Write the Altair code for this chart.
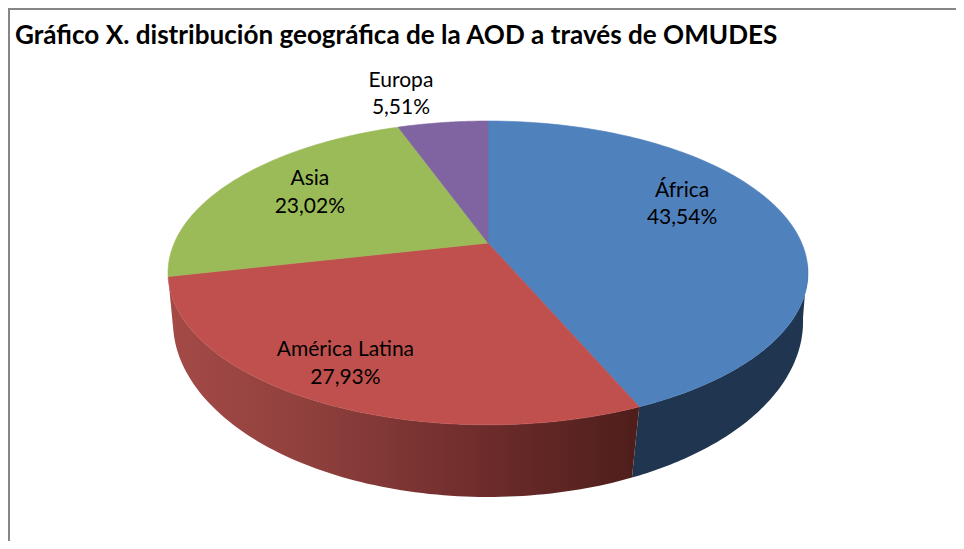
import math
import altair as alt
import pandas as pd

TITLE = "Gráfico X. distribución geográfica de la AOD a través de OMUDES"
regions = ["África", "América Latina", "Asia", "Europa"]
shares = [43.54, 27.93, 23.02, 5.51]
pct_labels = ["43,54%", "27,93%", "23,02%", "5,51%"]
colors = ["#4F81BD", "#C0504D", "#9BBB59", "#8064A2"]

W, H = 948, 533
ORIGIN = 8  # page margin


def top(theta, r=1.0):
    u, v = r * math.sin(theta), r * math.cos(theta)
    d = 1 + 0.197 * v
    return 488 + 313.7 * u / d, 243 - 146 * v / d


def bottom(theta):
    u, v = math.sin(theta), math.cos(theta)
    d = 1 + 0.16 * v
    return 488 + 311 * u / d, 293.4 - 171 * v / d


def arc(a0, a1, fn, n=90):
    return [fn(a0 + (a1 - a0) * i / n) for i in range(n + 1)]


xs = alt.Scale(domain=[ORIGIN, ORIGIN + W], range=[0, W], nice=False, zero=False)
ys = alt.Scale(domain=[ORIGIN, ORIGIN + H], range=[0, H], nice=False, zero=False)


def polygon(pts, fill, stroke=None):
    pts = pts + [pts[0]]
    df = pd.DataFrame({"x": [p[0] for p in pts], "y": [p[1] for p in pts], "i": range(len(pts))})
    return alt.Chart(df).mark_line(
        fill=fill, stroke=stroke or "transparent", strokeWidth=0.6 if stroke else 0, interpolate="linear"
    ).encode(
        x=alt.X("x:Q", scale=xs, axis=None),
        y=alt.Y("y:Q", scale=ys, axis=None),
        order="i:Q",
    )


# slice boundaries, clockwise from twelve o'clock
bounds = [0.0]
for s in shares:
    bounds.append(bounds[-1] + s / 100 * 2 * math.pi)

layers = []

# side walls
blue_start = math.radians(98)
side_blue = arc(blue_start, bounds[1], top) + arc(bounds[1], blue_start, bottom)
layers.append(polygon(side_blue, "#1F3550"))

red_grad = alt.LinearGradient(
    gradient="linear", x1=0, x2=1, y1=0, y2=0,
    stops=[
        alt.GradientStop(color="#A44A47", offset=0),
        alt.GradientStop(color="#8F403D", offset=0.3),
        alt.GradientStop(color="#6F2D2C", offset=0.65),
        alt.GradientStop(color="#4E1E1B", offset=1),
    ],
)
side_red = arc(bounds[1], bounds[2], top) + arc(bounds[2], bounds[1], bottom)
layers.append(polygon(side_red, red_grad))

# top surface
for i, c in enumerate(colors):
    pts = [top(0, 0)] + arc(bounds[i], bounds[i + 1], top)
    layers.append(polygon(pts, c, c))

# labels: mid-slice anchor plus a hand offset
label_offsets = [(14, -35), (-47, 20), (-22, -24), (-58, -85)]
rows = []
for i, name in enumerate(regions):
    ax, ay = top((bounds[i] + bounds[i + 1]) / 2, 0.6)
    dx, dy = label_offsets[i]
    rows.append({"x": ax + dx, "y": ay + dy, "t": f"{name}\n{pct_labels[i]}"})
layers.append(
    alt.Chart(pd.DataFrame(rows)).mark_text(
        font="Lato", fontSize=21, lineBreak="\n", lineHeight=27.5, align="center", baseline="middle", color="#000000"
    ).encode(
        x=alt.X("x:Q", scale=xs, axis=None),
        y=alt.Y("y:Q", scale=ys, axis=None),
        text="t:N",
    )
)

layers.append(
    alt.Chart(pd.DataFrame({"x": [15], "y": [44], "t": [TITLE]})).mark_text(
        font="Lato", fontSize=26.1, fontWeight="bold", align="left", baseline="alphabetic", color="#000000"
    ).encode(
        x=alt.X("x:Q", scale=xs, axis=None),
        y=alt.Y("y:Q", scale=ys, axis=None),
        text="t:N",
    )
)

# frame
frame = "#868686"
layers.append(alt.Chart(pd.DataFrame({"a": [0]})).mark_rule(color=frame, strokeWidth=2).encode(
    x=alt.value(1), y=alt.value(0), y2=alt.value(H)))
layers.append(alt.Chart(pd.DataFrame({"a": [0]})).mark_rule(color=frame, strokeWidth=2).encode(
    y=alt.value(1), x=alt.value(0), x2=alt.value(W)))

chart = alt.layer(*layers).properties(
    width=W, height=H, padding=0, autosize=alt.AutoSizeParams(type="none"), background="#FFFFFF"
).configure_view(stroke=None)

chart.save("out.html", embed_options={"renderer": "svg", "actions": False})
